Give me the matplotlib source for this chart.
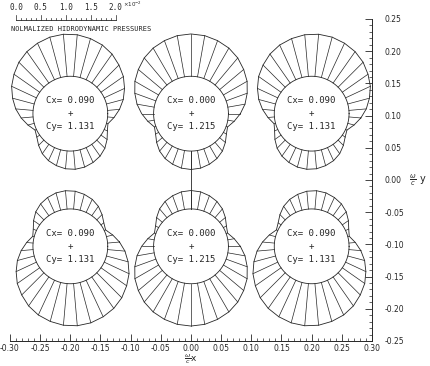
import numpy as np
import matplotlib
matplotlib.use('Agg')
import matplotlib.pyplot as plt
from matplotlib.ticker import MultipleLocator, FormatStrFormatter

# centres of the six cylinders (omega/c units)
cen_x = [-0.20, 0.00, 0.20, -0.20, 0.00, 0.20]
cen_y = [0.103, 0.103, 0.103, -0.103, -0.103, -0.103]
cx_lab = ['0.090', '0.000', '0.090', '0.090', '0.000', '0.090']
cy_lab = ['1.131', '1.215', '1.131', '1.131', '1.215', '1.131']
tilt = [5, 0, -5, -5, 0, 5]          # small rotation of pattern (deg)
flip = [1, 1, 1, -1, -1, -1]         # bottom row is mirrored

# normalized pressure (x1e-2) every 10 deg, from +x axis counter clockwise
ang = np.arange(0, 360, 10)
pres = [0.24, 0.35, 0.45, 0.55, 0.63, 0.71, 0.77, 0.81, 0.84, 0.85,
        0.84, 0.81, 0.77, 0.71, 0.63, 0.55, 0.45, 0.35, 0.24, 0.13,
        0.03, 0.07, 0.15, 0.23, 0.29, 0.33, 0.36, 0.37, 0.36, 0.33,
        0.29, 0.23, 0.15, 0.07, 0.03, 0.13]

bar_ticks = [0.0, 0.5, 1.0, 1.5, 2.0]

R = 0.062            # cylinder radius
W, H = 431, 366
L, Rt, T, B = 10, 372, 19, 341   # axes box in pixels
sx = (Rt - L) / 0.6
sy = (B - T) / 0.5
k = sx / sy
pscale = 0.0825      # data length of 1.0 pressure unit (bar)

ink = '#262626'
mono = 'DejaVu Sans Mono'

fig = plt.figure(figsize=(W / 100, H / 100), dpi=100)
ax = fig.add_axes([L / W, (H - B) / H, (Rt - L) / W, (B - T) / H])
ax.set_xlim(-0.30, 0.30)
ax.set_ylim(-0.25, 0.25)
for s in ['top', 'left']:
    ax.spines[s].set_visible(False)
for s in ['bottom', 'right']:
    ax.spines[s].set_linewidth(0.7)
    ax.spines[s].set_color(ink)
ax.yaxis.tick_right()
ax.xaxis.set_major_locator(MultipleLocator(0.05))
ax.xaxis.set_minor_locator(MultipleLocator(0.01))
ax.yaxis.set_major_locator(MultipleLocator(0.05))
ax.yaxis.set_minor_locator(MultipleLocator(0.01))
ax.xaxis.set_major_formatter(FormatStrFormatter('%.2f'))
ax.yaxis.set_major_formatter(FormatStrFormatter('%.2f'))
ax.tick_params(which='major', direction='in', length=5, width=0.6, color=ink,
               labelsize=5.5, labelcolor=ink)
ax.tick_params(axis='x', which='major', pad=2)
ax.tick_params(axis='y', which='major', pad=9)
ax.tick_params(which='minor', direction='in', length=2.5, width=0.5, color=ink)

th_c = np.linspace(0, 2 * np.pi, 200)
for i in range(6):
    x0, y0 = cen_x[i], cen_y[i]
    ax.plot(x0 + R * np.cos(th_c), y0 + R * k * np.sin(th_c), color=ink, lw=0.6)
    phi = np.radians(ang + tilt[i])
    p = np.array(pres) * pscale
    ux, uy = np.cos(phi), np.sin(phi) * flip[i]
    xi, yi = x0 + R * ux, y0 + R * k * uy
    xo, yo = x0 + (R + p) * ux, y0 + (R + p) * k * uy
    for j in range(len(ang)):
        ax.plot([xi[j], xo[j]], [yi[j], yo[j]], color=ink, lw=0.5)
    ax.plot(np.append(xo, xo[0]), np.append(yo, yo[0]), color=ink, lw=0.6)
    ax.text(x0, y0 + 0.02, 'Cx= ' + cx_lab[i], ha='center', va='center',
            fontsize=6.5, color=ink, family=mono)
    ax.text(x0, y0, '+', ha='center', va='center', fontsize=6.5, color=ink,
            family=mono)
    ax.text(x0, y0 - 0.02, 'Cy= ' + cy_lab[i], ha='center', va='center',
            fontsize=6.5, color=ink, family=mono)

# line joining the two middle cylinders
ax.plot([0, 0], [cen_y[1] - R * k, cen_y[4] + R * k], color=ink, lw=0.6)

# pressure scale bar
bx0 = -0.290
by = 0.25 - 1 / sy
bx = [bx0 + b * pscale for b in bar_ticks]
ax.plot([bx[0], bx[-1]], [by, by], color=ink, lw=0.6, clip_on=False)
for j in range(21):
    xt = bx0 + j * 0.1 * pscale
    ht = 5 if j % 5 == 0 else 2.5
    ax.plot([xt, xt], [by, by + ht / sy], color=ink, lw=0.5, clip_on=False)
for b, xt in zip(bar_ticks, bx):
    ax.text(xt, by + 8 / sy, '%.1f' % b, ha='center', va='bottom',
            fontsize=5.5, color=ink, family=mono)
ax.text(bx[-1] + 0.013, by + 11 / sy, r'$\times10^{-2}$', ha='left',
        va='bottom', fontsize=4, color=ink)
ax.text(bx0 - 0.008, by - 9 / sy, 'NOLMALIZED HIDRODYNAMIC PRESSURES',
        ha='left', va='center', fontsize=5, color=ink, family=mono)

ax.annotate(r'$\frac{\omega}{c}$ y', xy=(0.30, 0.0), xytext=(27, 0),
            textcoords='offset points', ha='left', va='center',
            fontsize=7, color=ink, annotation_clip=False)
fig.text(191 / W, 0.5 / H, r'$\frac{\omega}{c}$x', ha='center', va='bottom',
         fontsize=6.5, color=ink)

fig.savefig('out.png', dpi=100)
